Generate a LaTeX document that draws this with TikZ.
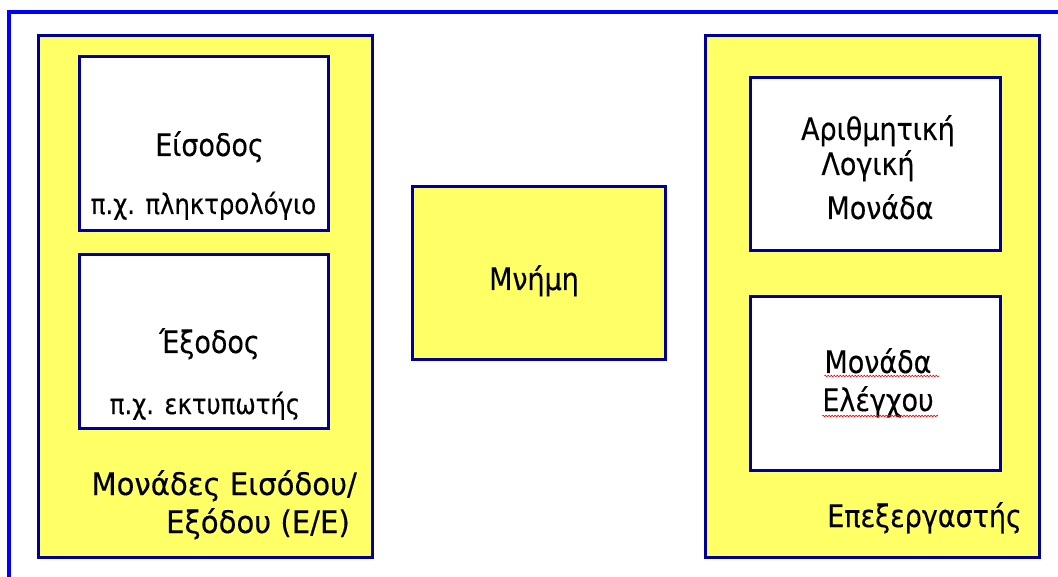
\documentclass[tikz,border=0pt]{standalone}
\usepackage{fontspec}
\setmainfont{DejaVu Sans}[FakeStretch=0.87,FakeBold=0.3]
\newfontfamily\widefont{DejaVu Sans}[FakeStretch=0.94,FakeBold=0.3]
\usetikzlibrary{decorations.pathmorphing}
\definecolor{outerblue}{RGB}{0,0,255}
\definecolor{navy}{RGB}{0,0,153}
\definecolor{unityellow}{RGB}{255,255,102}
\tikzset{
  outerframe/.style={draw=outerblue,line width=3.5pt},
  unitbox/.style={draw=navy,fill=unityellow,line width=3pt,inner sep=0pt,rectangle},
  partbox/.style={draw=navy,fill=white,line width=3pt,inner sep=0pt,rectangle},
  bigtxt/.style={font=\fontsize{31}{37}\selectfont,inner sep=0pt,anchor=base},
  widetxt/.style={font=\widefont\fontsize{31}{37}\selectfont,inner sep=0pt,anchor=base east},
  smalltxt/.style={font=\fontsize{28}{33}\selectfont,inner sep=0pt,anchor=base},
  spell/.style={draw=red,line width=0.6pt,decorate,decoration={snake,amplitude=0.8pt,segment length=3pt}}
}
\begin{document}
\begin{tikzpicture}[x=1pt,y=-1pt]
\useasboundingbox (0,0) rectangle (1058,577);
\clip (0,0) rectangle (1058,577);
\draw[outerframe] (9,12) rectangle (1075,595);
% left unit
\node[unitbox,minimum width=334pt,minimum height=521.5pt] (io) at (205,296.75) {};
\node[partbox,minimum width=249.5pt,minimum height=173.5pt] (in) at (203.75,143.75) {};
\node[partbox,minimum width=249.5pt,minimum height=173pt] (out) at (203.75,341.5) {};
% memory
\node[unitbox,minimum width=253pt,minimum height=173pt] (mem) at (538.5,273.5) {};
% processor
\node[unitbox,minimum width=334.5pt,minimum height=521.5pt] (cpu) at (872.25,296.75) {};
\node[partbox,minimum width=250pt,minimum height=173pt] (alu) at (875,164.5) {};
\node[partbox,minimum width=250pt,minimum height=173pt] (cu) at (875,383.5) {};
% texts
\node[bigtxt] (t1) at (209.5,156) {Είσοδος};
\node[smalltxt] (t2) at (203.5,214) {π.χ. πληκτρολόγιο};
\node[bigtxt] (t3) at (209.5,353) {Έξοδος};
\node[smalltxt] (t4) at (205,414) {π.χ. εκτυπωτής};
\node[bigtxt] (t5) at (534,290) {Μνήμη};
\node[bigtxt] (t6) at (878,140) {Αριθμητική};
\node[bigtxt] (t7) at (868,175) {Λογική};
\node[bigtxt] (t8) at (880,219) {Μονάδα};
\node[bigtxt] (t9) at (878,373) {Μονάδα};
\node[bigtxt] (t10) at (878,411) {Ελέγχου};
\node[widetxt] (t11) at (357,495) {Μονάδες Εισόδου/};
\node[widetxt] (t12) at (350,533) {Εξόδου (Ε/Ε)};
\node[bigtxt,anchor=base east] (t13) at (1022,527) {Επεξεργαστής};
% spell-check underlines
\draw[spell] (t9.base west) ++(0,3) -- ++(115,0);
\draw[spell] (t10.base west) ++(0,5) -- ++(116,0);
\end{tikzpicture}
\end{document}
